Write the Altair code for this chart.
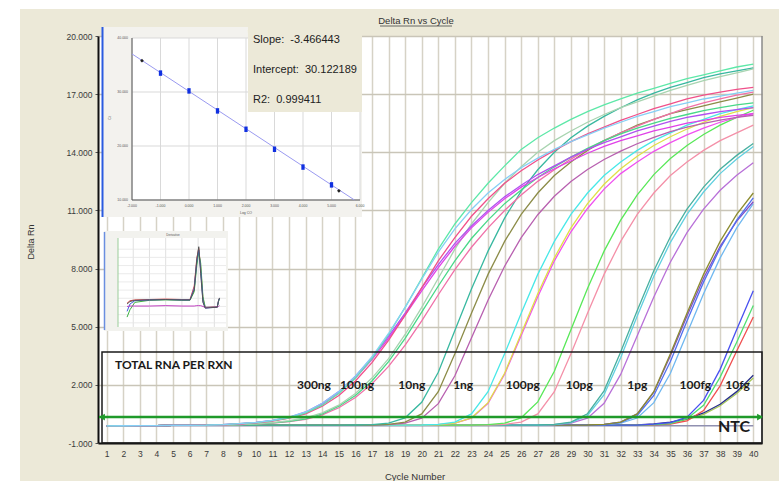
import altair as alt
import pandas as pd

FONT = "Liberation Sans"
BOLD = "Lato"

# ---------------- main amplification data ----------------
cycles = list(range(1, 41))
y_ticks = [-1, 2, 5, 8, 11, 14, 17, 20]
threshold = [0.34]

baseline = [-0.12, -0.11, -0.10, -0.10, -0.09, -0.09, -0.08, -0.08, -0.08, -0.08,
            -0.08, -0.08, -0.08, -0.08, -0.08, -0.08, -0.08, -0.08, -0.08, -0.08,
            -0.08, -0.08, -0.08, -0.08, -0.08, -0.08, -0.08, -0.08, -0.08, -0.08,
            -0.08, -0.08, -0.08, -0.08, -0.08, -0.08, -0.08, -0.08, -0.08, -0.08]

ntc_values = [-0.13, -0.12, -0.12, -0.11, -0.11, -0.11, -0.11, -0.11, -0.11, -0.11,
              -0.11, -0.11, -0.11, -0.11, -0.11, -0.11, -0.11, -0.11, -0.11, -0.11,
              -0.11, -0.11, -0.11, -0.11, -0.11, -0.11, -0.11, -0.11, -0.11, -0.11,
              -0.11, -0.11, -0.11, -0.11, -0.11, -0.11, -0.11, -0.11, -0.11, -0.11]

well_names = ["300ng-a", "300ng-b", "300ng-c", "300ng-d", "300ng-e",
              "100ng-a", "100ng-b", "100ng-c",
              "10ng-a", "10ng-b", "10ng-c",
              "1ng-a", "1ng-b", "1ng-c",
              "100pg-a", "100pg-b",
              "10pg-a", "10pg-b", "10pg-c",
              "1pg-a", "1pg-b", "1pg-c", "1pg-d",
              "100fg-a", "100fg-b", "100fg-c",
              "10fg-a", "10fg-b"]
well_colors = ["#86CFF5", "#5DE8A8", "#F0508A", "#B050F0", "#E040E8",
               "#A8D4B0", "#48D888", "#F070A8",
               "#38B8A0", "#8C8C48", "#B860B0",
               "#48E8E8", "#E0E048", "#F050F0",
               "#58E858", "#F490A8",
               "#48B0A0", "#60D0E0", "#B870D8",
               "#8C8C30", "#5070F0", "#8050C8", "#70B8F0",
               "#4850F0", "#50E070", "#F05050",
               "#283088", "#A8C858"]
well_start = [8, 8, 8, 8, 8,
              8, 8, 8,
              16, 17, 17,
              20, 20, 20,
              23, 24,
              27, 27, 27,
              30, 30, 30, 30,
              34, 34, 34,
              33, 33]
well_rise = [
    [-0.05, 0.0, 0.06, 0.17, 0.33, 0.6, 1.05, 1.65, 2.45, 3.45, 4.65, 6.0, 7.45, 8.85, 10.05, 11.05, 11.9, 12.6, 13.2, 13.7, 14.15, 14.55, 14.9, 15.25, 15.55, 15.85, 16.1, 16.35, 16.55, 16.75, 16.9, 17.05, 17.2],
    [-0.05, 0.0, 0.05, 0.15, 0.3, 0.55, 0.95, 1.55, 2.35, 3.35, 4.6, 6.0, 7.5, 9.0, 10.3, 11.4, 12.4, 13.3, 14.15, 14.75, 15.25, 15.7, 16.1, 16.45, 16.75, 17.05, 17.3, 17.55, 17.8, 18.0, 18.2, 18.4, 18.55],
    [-0.06, -0.02, 0.04, 0.13, 0.28, 0.5, 0.9, 1.45, 2.2, 3.15, 4.3, 5.6, 7.0, 8.4, 9.6, 10.7, 11.6, 12.4, 13.05, 13.6, 14.1, 14.55, 14.95, 15.3, 15.65, 15.95, 16.25, 16.5, 16.75, 16.95, 17.1, 17.25, 17.35],
    [-0.05, 0.0, 0.06, 0.17, 0.32, 0.6, 1.05, 1.65, 2.45, 3.4, 4.5, 5.7, 7.0, 8.2, 9.3, 10.2, 11.0, 11.7, 12.3, 12.85, 13.3, 13.75, 14.15, 14.5, 14.8, 15.1, 15.35, 15.6, 15.8, 15.95, 16.1, 16.2, 16.3],
    [-0.05, -0.01, 0.05, 0.15, 0.3, 0.55, 1.0, 1.6, 2.35, 3.3, 4.4, 5.6, 6.85, 8.05, 9.15, 10.1, 10.9, 11.6, 12.2, 12.7, 13.15, 13.55, 13.95, 14.3, 14.6, 14.85, 15.1, 15.3, 15.5, 15.65, 15.8, 15.9, 16.0],
    [-0.07, -0.05, -0.01, 0.05, 0.15, 0.3, 0.55, 0.95, 1.55, 2.35, 3.35, 4.6, 6.0, 7.5, 9.0, 10.3, 11.4, 12.4, 13.25, 14.0, 14.6, 15.1, 15.55, 15.95, 16.3, 16.6, 16.9, 17.2, 17.45, 17.7, 17.9, 18.1, 18.3],
    [-0.07, -0.05, -0.02, 0.04, 0.12, 0.25, 0.5, 0.9, 1.45, 2.2, 3.2, 4.4, 5.75, 7.1, 8.4, 9.55, 10.5, 11.35, 12.05, 12.7, 13.25, 13.75, 14.2, 14.6, 14.95, 15.25, 15.5, 15.75, 15.95, 16.15, 16.3, 16.45, 16.55],
    [-0.07, -0.05, -0.02, 0.03, 0.1, 0.22, 0.45, 0.82, 1.35, 2.05, 2.95, 4.05, 5.3, 6.65, 7.95, 9.1, 10.1, 11.0, 11.8, 12.5, 13.1, 13.65, 14.15, 14.6, 15.0, 15.35, 15.7, 16.0, 16.3, 16.55, 16.75, 16.95, 17.1],
    [-0.07, -0.05, 0.02, 0.3, 1.1, 2.65, 4.8, 6.95, 8.9, 10.6, 12.0, 13.1, 14.0, 14.75, 15.35, 15.85, 16.3, 16.7, 17.05, 17.35, 17.6, 17.85, 18.05, 18.2, 18.35],
    [-0.07, -0.04, 0.08, 0.5, 1.65, 3.6, 5.7, 7.7, 9.4, 10.8, 11.9, 12.8, 13.5, 14.1, 14.6, 15.0, 15.4, 15.7, 16.0, 16.2, 16.4, 16.6, 16.8, 17.0],
    [-0.075, -0.055, 0.02, 0.28, 1.03, 2.47, 4.42, 6.37, 8.12, 9.6, 10.78, 11.73, 12.49, 13.11, 13.63, 14.06, 14.44, 14.77, 15.06, 15.3, 15.49, 15.66, 15.8, 15.91],
    [-0.07, -0.04, 0.08, 0.5, 1.65, 3.6, 5.7, 7.7, 9.4, 10.8, 11.9, 12.8, 13.5, 14.1, 14.6, 15.0, 15.4, 15.7, 16.0, 16.2, 16.4],
    [-0.075, -0.055, 0.02, 0.29, 1.08, 2.6, 4.65, 6.7, 8.55, 10.1, 11.35, 12.35, 13.15, 13.8, 14.35, 14.8, 15.2, 15.55, 15.85, 16.1, 16.3],
    [-0.075, -0.055, 0.02, 0.28, 1.05, 2.55, 4.55, 6.55, 8.4, 9.9, 11.1, 12.1, 12.9, 13.5, 14.05, 14.5, 14.9, 15.25, 15.55, 15.8, 16.0],
    [-0.075, -0.055, 0.02, 0.3, 1.12, 2.7, 4.84, 6.97, 8.9, 10.5, 11.8, 12.85, 13.68, 14.35, 14.92, 15.4, 15.8, 16.17],
    [-0.07, -0.04, 0.08, 0.5, 1.65, 3.6, 5.7, 7.7, 9.4, 10.8, 11.9, 12.8, 13.5, 14.1, 14.6, 15.0, 15.4],
    [-0.07, -0.04, 0.08, 0.51, 1.69, 3.69, 5.84, 7.89, 9.64, 11.07, 12.2, 13.12, 13.84, 14.45],
    [-0.07, -0.05, 0.05, 0.42, 1.5, 3.4, 5.55, 7.6, 9.35, 10.8, 11.95, 12.9, 13.65, 14.3],
    [-0.075, -0.055, 0.02, 0.28, 1.05, 2.54, 4.53, 6.53, 8.34, 9.85, 11.07, 12.04, 12.82, 13.46],
    [-0.07, -0.04, 0.08, 0.5, 1.65, 3.6, 5.7, 7.7, 9.4, 10.8, 11.9],
    [-0.07, -0.05, 0.06, 0.42, 1.45, 3.2, 5.3, 7.3, 9.05, 10.5, 11.65],
    [-0.07, -0.04, 0.08, 0.5, 1.62, 3.5, 5.55, 7.5, 9.15, 10.45, 11.45],
    [-0.075, -0.055, 0.02, 0.29, 1.08, 2.6, 4.65, 6.7, 8.55, 10.1, 11.35],
    [-0.03, 0.05, 0.33, 1.2, 2.8, 4.85, 6.85],
    [-0.05, 0.0, 0.25, 0.95, 2.4, 4.2, 6.1],
    [-0.06, -0.02, 0.14, 0.67, 1.95, 3.75, 5.5],
    [-0.06, -0.02, 0.08, 0.25, 0.55, 1.0, 1.65, 2.5],
    [-0.07, -0.04, 0.04, 0.2, 0.48, 0.92, 1.55, 2.35],
]

group_labels = ["300ng", "100ng", "10ng", "1ng", "100pg", "10pg", "1pg", "100fg", "10fg"]
group_label_cycle = [13.5, 16.1, 19.4, 22.5, 26.1, 29.5, 33.0, 36.5, 39.05]
group_label_value = [2.0, 2.0, 2.0, 2.0, 2.0, 2.0, 2.0, 2.0, 2.0]

# ---------------- standard curve inset data ----------------
std_log = [-1, 0, 1, 2, 3, 4, 5]
std_ct = [33.5, 30.2, 26.5, 23.1, 19.4, 16.1, 12.8]
unk_log = [-1.65, 5.26]
unk_ct = [35.8, 11.7]
fit_log = [-2.0, 5.8]
fit_ct = [37.05, 10.02]
std_x_ticks = [-2, -1, 0, 1, 2, 3, 4, 5, 6]
std_x_labels = ["-2.000", "-1.000", "0.000", "1.000", "2.000", "3.000", "4.000", "5.000", "6.000"]
std_y_ticks = [10, 20, 30, 40]
std_y_labels = ["10.000", "20.000", "30.000", "40.000"]
fit_text = ["Slope:\u00a0\u00a0-3.466443", "Intercept:\u00a0\u00a030.122189", "R2:\u00a0\u00a00.999411"]

# ---------------- melt curve inset data ----------------
melt_temp = [63.1, 64.0, 65.5, 70.0, 75.0, 80.0, 82.5, 83.8, 84.6, 85.2, 85.8, 86.5, 87.2, 88.7, 90.9, 91.3, 91.6]
melt_red = [3.4, 3.7, 3.8, 3.85, 3.9, 3.85, 3.85, 5.5, 8.9, 10.1, 7.8, 3.9, 2.85, 2.9, 2.95, 3.7, 4.0]
melt_green = [1.7, 2.6, 3.5, 3.75, 3.8, 3.75, 3.75, 4.8, 8.0, 9.6, 8.3, 4.2, 2.9, 2.9, 2.95, 3.6, 3.95]
melt_blue = [2.4, 3.3, 3.7, 3.8, 3.85, 3.8, 3.8, 5.2, 8.5, 9.9, 7.4, 3.6, 2.8, 2.85, 2.9, 3.7, 4.0]
melt_purple = [3.0, 3.05, 3.05, 3.05, 3.1, 3.05, 3.05, 3.05, 3.1, 3.1, 3.1, 3.0, 2.9, 2.9, 2.95, 3.0, 3.1]
melt_gray = [3.3, 3.6, 3.75, 3.8, 3.85, 3.8, 3.8, 5.0, 8.7, 10.3, 7.0, 3.5, 2.8, 2.85, 2.9, 3.7, 4.05]
melt_x_grid = [65, 70, 75, 80, 85, 90]
melt_y_grid = [1, 2, 3, 4, 5, 6, 7, 8, 9, 10]

# ---------------- build tables ----------------
# rows are written latest group first, so that the high-input wells end up on top
rows = []
for name, start, rise in reversed(list(zip(well_names, well_start, well_rise))):
    for c in cycles:
        if c < start:
            v = baseline[c - 1]
        elif c - start < len(rise):
            v = rise[c - start]
        else:
            continue
        rows.append({"cycle": c, "value": v, "well": name})
curve_df = pd.DataFrame(rows)
ntc_df = pd.DataFrame({"cycle": cycles, "value": ntc_values})
lab_df = pd.DataFrame({"cycle": group_label_cycle, "value": group_label_value, "label": group_labels})
thr_df = pd.DataFrame({"value": threshold})

melt_rows = []
for sname, vals in [("red", melt_red), ("green", melt_green), ("blue", melt_blue),
                    ("purple", melt_purple), ("gray", melt_gray)]:
    for t, d in zip(melt_temp, vals):
        melt_rows.append({"temp": t, "d": d, "s": sname})
melt_df = pd.DataFrame(melt_rows)

one = pd.DataFrame({"k": [0]})

W, H = 664, 407
XM = alt.Scale(domain=[0.475, 40.525], nice=False, zero=False)
YM = alt.Scale(domain=[-1, 20], nice=False, zero=False)
SX = alt.Scale(domain=[-2, 6], range=[34, 262], nice=False, zero=False)
SY = alt.Scale(domain=[10, 40], range=[164, 2], nice=False, zero=False)
MX = alt.Scale(domain=[60, 93.6], range=[19, 128], nice=False, zero=False)
MY = alt.Scale(domain=[0, 11], range=[295, 205], nice=False, zero=False)


def box(x1, x2, y1, y2, **kw):
    return alt.Chart(one).mark_rect(**kw).encode(
        x=alt.value(x1), x2=alt.value(x2), y=alt.value(y1), y2=alt.value(y2))


def hrule(x1, x2, y, **kw):
    return alt.Chart(one).mark_rule(**kw).encode(x=alt.value(x1), x2=alt.value(x2), y=alt.value(y))


def vrule(x, y1, y2, **kw):
    return alt.Chart(one).mark_rule(**kw).encode(x=alt.value(x), y=alt.value(y1), y2=alt.value(y2))


def txt(text, x, y, **kw):
    return alt.Chart(one).mark_text(text=text, **kw).encode(x=alt.value(x), y=alt.value(y))


x_axis = alt.Axis(values=cycles, title=None, labelFont=FONT, labelFontSize=8.5, labelColor="#3a3a3a",
                  tickSize=0, labelPadding=6, domainColor="#111111", domainWidth=2,
                  grid=True, gridColor="#D6D2C6", gridWidth=1.5, labelFlush=False, labelOverlap=False)
y_axis = alt.Axis(values=y_ticks, title=None, labelFont=FONT, labelFontSize=8.5, labelColor="#3a3a3a",
                  labelExpr="replace(format(datum.value, '.3f'), '\u2212', '-')",
                  tickSize=3, tickColor="#555555", labelPadding=3, domainColor="#111111", domainWidth=2,
                  grid=True, gridColor="#C9C5B8", gridWidth=1.5)

layers = []
# white margins outside the beige panel
layers.append(box(-98, -78, -36, 445, color="#FFFFFF"))
layers.append(box(-98, 681, -36, -27, color="#FFFFFF"))

# NTC
layers.append(alt.Chart(ntc_df).mark_line(color="#9090B0", strokeWidth=1.3, clip=True).encode(
    x=alt.X("cycle:Q", scale=XM, axis=None), y=alt.Y("value:Q", scale=YM, axis=None)))

# amplification curves
layers.append(alt.Chart(curve_df).mark_line(strokeWidth=1.3, clip=True).encode(
    x=alt.X("cycle:Q", scale=XM, axis=x_axis),
    y=alt.Y("value:Q", scale=YM, axis=y_axis),
    color=alt.Color("well:N", scale=alt.Scale(domain=well_names, range=well_colors), legend=None),
    detail="well:N"))

# right border
layers.append(vrule(W, 0, H, color="#8A8A8A", strokeWidth=1.5))

# annotation box
layers.append(box(4, W, 316, H, fillOpacity=0, stroke="#1a1a1a", strokeWidth=1.5))

# threshold line with arrows
layers.append(alt.Chart(thr_df).mark_rule(color="#1F9A2A", strokeWidth=2.5).encode(
    x=alt.value(1), x2=alt.value(W), y=alt.Y("value:Q", scale=YM, axis=None)))
layers.append(alt.Chart(thr_df).mark_point(shape="triangle-left", filled=True, size=45, color="#1F9A2A", opacity=1).encode(
    x=alt.value(4), y=alt.Y("value:Q", scale=YM, axis=None)))
layers.append(alt.Chart(thr_df).mark_point(shape="triangle-right", filled=True, size=45, color="#1F9A2A", opacity=1).encode(
    x=alt.value(W - 2), y=alt.Y("value:Q", scale=YM, axis=None)))

# group labels
layers.append(alt.Chart(lab_df).mark_text(font=BOLD, fontWeight="bold", fontSize=12, color="#1a1a1a").encode(
    x=alt.X("cycle:Q", scale=XM, axis=None), y=alt.Y("value:Q", scale=YM, axis=None), text="label:N"))
layers.append(txt("TOTAL RNA PER RXN", 17, 329, font=BOLD, fontWeight="bold", fontSize=12, color="#1a1a1a",
                  align="left", baseline="middle"))
layers.append(txt("NTC", 636, 391, font=BOLD, fontWeight="bold", fontSize=16, color="#1a1a1a",
                  align="center", baseline="middle"))

# ---------- standard curve inset ----------
layers.append(box(4, 264, -9, 181, color="#F3F2EE"))
layers.append(box(34, 262, 2, 164, color="#FFFFFF"))
layers.append(alt.Chart(pd.DataFrame({"t": std_x_ticks})).mark_rule(color="#D9D9D9", strokeWidth=1).encode(
    x=alt.X("t:Q", scale=SX, axis=None), y=alt.value(2), y2=alt.value(164)))
layers.append(alt.Chart(pd.DataFrame({"t": std_y_ticks})).mark_rule(color="#D9D9D9", strokeWidth=1).encode(
    y=alt.Y("t:Q", scale=SY, axis=None), x=alt.value(34), x2=alt.value(262)))
layers.append(vrule(34, 2, 164, color="#555555", strokeWidth=1))
layers.append(hrule(34, 262, 164, color="#555555", strokeWidth=1))
layers.append(alt.Chart(pd.DataFrame({"lg": fit_log, "ct": fit_ct})).mark_line(color="#9A9AF0", strokeWidth=1).encode(
    x=alt.X("lg:Q", scale=SX, axis=None), y=alt.Y("ct:Q", scale=SY, axis=None)))
layers.append(alt.Chart(pd.DataFrame({"lg": std_log, "ct": std_ct})).mark_point(
    shape="M-0.6,-1L0.6,-1L0.6,1L-0.6,1Z", filled=True, size=30, color="#1030E0", opacity=1).encode(
    x=alt.X("lg:Q", scale=SX, axis=None), y=alt.Y("ct:Q", scale=SY, axis=None)))
layers.append(alt.Chart(pd.DataFrame({"lg": unk_log, "ct": unk_ct})).mark_point(
    shape="diamond", filled=True, size=14, color="#222222", opacity=1).encode(
    x=alt.X("lg:Q", scale=SX, axis=None), y=alt.Y("ct:Q", scale=SY, axis=None)))
layers.append(alt.Chart(pd.DataFrame({"t": std_x_ticks, "l": std_x_labels})).mark_text(
    fontSize=3.5, font=FONT, color="#555555", baseline="middle").encode(
    x=alt.X("t:Q", scale=SX, axis=None), y=alt.value(170), text="l:N"))
layers.append(alt.Chart(pd.DataFrame({"t": std_y_ticks, "l": std_y_labels})).mark_text(
    fontSize=3.5, font=FONT, color="#555555", align="right", baseline="middle").encode(
    y=alt.Y("t:Q", scale=SY, axis=None), x=alt.value(30), text="l:N"))
layers.append(txt("Log CO", 148, 177, fontSize=3.5, font=FONT, color="#555555"))
layers.append(txt("Ct", 12, 82, fontSize=3.5, font=FONT, color="#555555", angle=270))
layers.append(txt("Standard Curve", 150, -4, fontSize=3.5, font=FONT, color="#555555", align="left"))
layers.append(vrule(4.5, -9, 181, color="#2A5BE0", strokeWidth=2))
# fit statistics box
layers.append(box(150, 264, -9, 76, color="#ECE9D8"))
layers.append(txt(fit_text[0], 155, 4, fontSize=11, font=FONT, color="#222222", align="left", baseline="middle"))
layers.append(txt(fit_text[1], 155, 34, fontSize=11, font=FONT, color="#222222", align="left", baseline="middle"))
layers.append(txt(fit_text[2], 155, 64, fontSize=11, font=FONT, color="#222222", align="left", baseline="middle"))

# ---------- melt curve inset ----------
layers.append(box(6, 130, 195, 295, color="#F2F2EE"))
layers.append(box(20, 128, 202, 291, color="#FFFFFF"))
layers.append(alt.Chart(pd.DataFrame({"t": melt_x_grid})).mark_rule(color="#E0E0E0", strokeWidth=1).encode(
    x=alt.X("t:Q", scale=MX, axis=None), y=alt.value(202), y2=alt.value(291)))
layers.append(alt.Chart(pd.DataFrame({"t": melt_y_grid})).mark_rule(color="#E6E6E6", strokeWidth=0.8).encode(
    y=alt.Y("t:Q", scale=MY, axis=None), x=alt.value(20), x2=alt.value(128)))
layers.append(vrule(20, 202, 291, color="#9ACD9A", strokeWidth=1))
layers.append(alt.Chart(melt_df).mark_line(strokeWidth=1).encode(
    x=alt.X("temp:Q", scale=MX, axis=None), y=alt.Y("d:Q", scale=MY, axis=None),
    color=alt.Color("s:N", scale=alt.Scale(domain=["red", "green", "blue", "purple", "gray"],
                                          range=["#E04848", "#3CB043", "#3F5FE0", "#C040C0", "#555555"]),
                    legend=None)))
layers.append(txt("Derivative", 75, 199, fontSize=3, font=FONT, color="#555555"))
layers.append(vrule(6.5, 196, 294, color="#6A8FE0", strokeWidth=1.5))

# ---------- titles ----------
layers.append(txt("Delta Rn vs Cycle", 318, -12, fontSize=9.5, font=FONT, color="#333333", baseline="alphabetic"))
layers.append(hrule(282, 354, -10, color="#444444", strokeWidth=0.8))
layers.append(txt("Delta Rn", -67, 206, fontSize=9, font=FONT, color="#333333", angle=270, baseline="middle"))
layers.append(txt("Cycle Number", 317, 441, fontSize=9.5, font=FONT, color="#333333", baseline="middle"))

chart = alt.layer(*layers).resolve_scale(
    x="independent", y="independent", color="independent"
).properties(
    width=W, height=H,
    padding={"left": 98, "top": 36, "right": 17, "bottom": 38},
    autosize=alt.AutoSizeParams(type="none"),
    background="#ECE9D8",
).configure_view(fill="#FFFFFF", stroke=None)

chart.save("out.html", embed_options={"renderer": "svg", "actions": False})
